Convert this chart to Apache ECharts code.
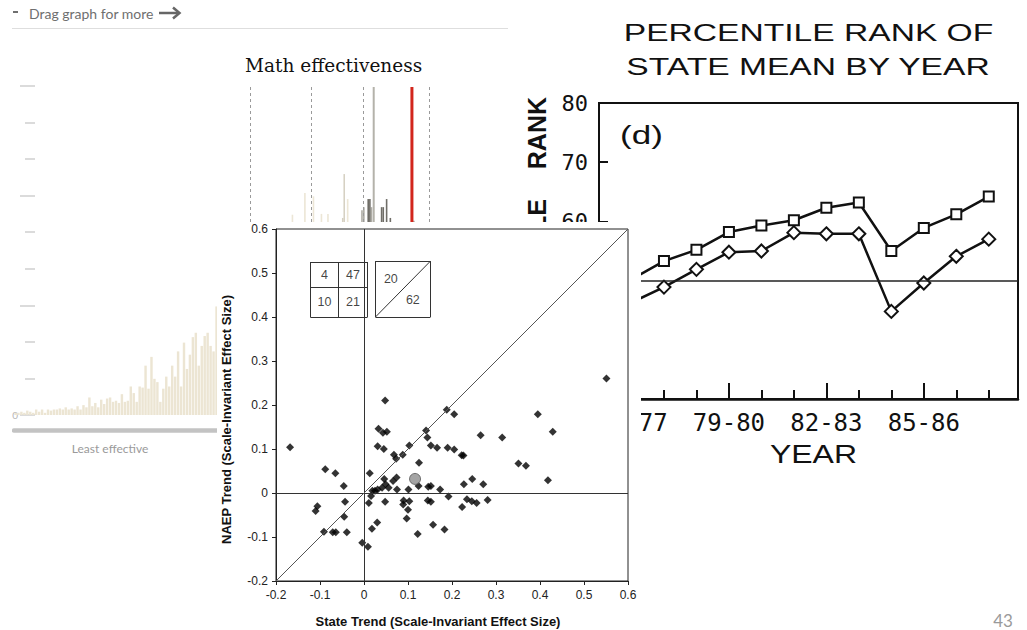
<!DOCTYPE html>
<html>
<head>
<meta charset="utf-8">
<script src="https://cdn.jsdelivr.net/npm/echarts@6.0.0/dist/echarts.min.js"></script>
<style>
  html, body { margin: 0; padding: 0; background: #fff; }
  body { width: 1027px; height: 630px; position: relative; overflow: hidden; }
  .panel { position: absolute; }
  #hist { left: 12px; top: 0; width: 500px; height: 470px; z-index: 1; }
  #rank { left: 500px; top: 0; width: 527px; height: 630px; z-index: 2; }
  #naep { left: 217px; top: 222px; width: 424px; height: 408px; z-index: 3; background: #fff; }
</style>
</head>
<body>
<div id="hist" class="panel"></div>
<div id="rank" class="panel"></div>
<div id="naep" class="panel"></div>
<script>
// ---- left panel: teacher effectiveness distribution ----
const leftCounts = [2, 2, 3, 2, 4, 3, 2, 5, 3, 5, 2, 5, 4, 5, 5, 6, 5, 7, 5, 6,
  5, 8, 5, 9, 7, 16, 8, 11, 7, 14, 10, 15, 16, 12, 13, 11, 19, 12, 13, 26,
  20, 12, 26, 25, 45, 24, 53, 33, 30, 12, 24, 35, 26, 45, 35, 58, 26, 66, 42, 55,
  71, 75, 45, 63, 72, 75, 63, 58, 99];
const countTicks = [0, 100, 200, 300];

// small "Math effectiveness" strip: [position, height]
const midLight = [[28.9, 5.4], [35.6, 21.5], [40.2, 19], [44.5, 6], [48.0, 6], [58.6, 17]];
const midPale = [[55.0, 3], [55.8, 35.5]];
const midGray = [[64.4, 8.7], [65.4, 11], [69.5, 11], [92.3, 1]];
const midDark = [[66.8, 17], [67.7, 17], [74.0, 11], [74.9, 11], [76.7, 17], [78.7, 3]];
const midTall = [[68.7, 100]];
const midRed = [[87.8, 100]];
const midDashes = [1.1, 33.7, 61.8, 96.9];

// ---- right panel: percentile rank by year ----
const schoolYears = ['75-76', '76-77', '77-78', '78-79', '79-80', '80-81', '81-82',
  '82-83', '83-84', '84-85', '85-86', '86-87', '87-88'];
const rankSquares = [null, 50.2, 53.3, 55.2, 58.2, 59.3, 60.2, 62.3, 63.2, 55.0, 58.9, 61.2, 64.2];
const rankDiamonds = [null, 46.3, 48.9, 51.9, 54.8, 55.0, 58.1, 57.9, 57.9, 44.8, 49.6, 54.1, 57.0];
const yearLabelIdx = [1, 4, 7, 10];
const rankTicks = [30, 40, 50, 60, 70, 80];
const rankMedian = 50;

// ---- front panel: NAEP trend vs state trend ----
const stateTrend = [-0.168, -0.088, -0.065, -0.046, -0.043, -0.045, -0.106, -0.110, -0.091, -0.071,
  -0.064, -0.039, -0.004, 0.009, 0.033, 0.043, 0.052, 0.031, 0.045, 0.013,
  0.016, 0.011, 0.019, 0.025, 0.031, 0.041, 0.046, 0.049, 0.056, 0.048,
  0.030, 0.018, 0.068, 0.073, 0.088, 0.103, 0.125, 0.074, 0.066, 0.075,
  0.101, 0.090, 0.089, 0.103, 0.100, 0.097, 0.122, 0.124, 0.141, 0.144,
  0.152, 0.166, 0.146, 0.152, 0.145, 0.152, 0.157, 0.173, 0.183, 0.190,
  0.205, 0.192, 0.222, 0.226, 0.227, 0.223, 0.234, 0.246, 0.245, 0.256,
  0.271, 0.281, 0.265, 0.314, 0.351, 0.368, 0.418, 0.429, 0.048, 0.551,
  0.188, 0.205, 0.395];
const naepTrend = [0.104, 0.054, 0.045, 0.016, -0.020, -0.054, -0.030, -0.041, -0.088, -0.089,
  -0.089, -0.089, -0.113, -0.122, 0.146, 0.137, 0.139, 0.106, 0.100, 0.045,
  -0.007, -0.023, 0.005, 0.005, 0.008, 0.012, 0.032, 0.020, 0.012, -0.020,
  -0.067, -0.081, 0.087, 0.078, 0.087, 0.108, 0.069, 0.035, 0.027, 0.008,
  0.008, -0.017, -0.026, -0.019, -0.038, -0.058, -0.093, 0.016, 0.142, 0.126,
  0.108, 0.103, 0.014, 0.016, -0.017, -0.020, -0.072, 0.008, -0.083, 0.103,
  0.099, -0.008, 0.086, 0.085, 0.020, -0.032, -0.014, 0.032, -0.019, -0.023,
  0.020, -0.016, 0.131, 0.126, 0.067, 0.062, 0.029, 0.139, 0.210, 0.260,
  0.189, 0.179, 0.179];
const meanPoint = [0.116, 0.032];
const quadCounts = [4, 47, 10, 21];
const diagCounts = [20, 62];
const trendTicks = [-0.2, -0.1, 0, 0.1, 0.2, 0.3, 0.4, 0.5, 0.6];

const svg = { renderer: 'svg' };

// =================== histogram panel ===================
const hist = echarts.init(document.getElementById('hist'), null, svg);
const thinBar = (name, data, color, width) => ({
  name, type: 'bar', xAxisIndex: 1, yAxisIndex: 1, data,
  barWidth: width, itemStyle: { color }, silent: true
});
hist.setOption({
  animation: false,
  grid: [
    { left: 2, top: 86, width: 204, height: 329, outerBoundsMode: 'none' },
    { left: 232, top: 87, width: 186, height: 135, outerBoundsMode: 'none' }
  ],
  xAxis: [
    {
      type: 'category', gridIndex: 0, data: leftCounts.map((v, i) => i),
      offset: 15,
      axisLine: { onZero: false, lineStyle: { color: '#c3c3c3', width: 4.5 } },
      axisTick: { show: false }, axisLabel: { show: false },
      name: 'Least effective', nameLocation: 'middle', nameGap: 12,
      nameTextStyle: { color: '#9a9a9a', fontSize: 12, fontFamily: 'Lato', padding: [0, 12, 0, 0] }
    },
    { type: 'value', gridIndex: 1, min: 0, max: 100, show: false }
  ],
  yAxis: [
    {
      type: 'value', gridIndex: 0, min: countTicks[0], max: countTicks[countTicks.length - 1],
      interval: countTicks[1] - countTicks[0], offset: -21,
      axisLine: { show: false },
      axisTick: { show: true, length: 15, lineStyle: { color: '#cfcfcf', width: 1.5 } },
      minorTick: { show: true, splitNumber: 3, length: 10, lineStyle: { color: '#cfcfcf', width: 1.5 } },
      splitLine: { show: false },
      axisLabel: { margin: 17, color: '#b5b5b5', fontSize: 10, fontFamily: 'Lato',
        formatter: v => (v === 0 ? '0' : '') }
    },
    { type: 'value', gridIndex: 1, min: 0, max: 100, show: false }
  ],
  series: [
    {
      type: 'bar', data: leftCounts, barCategoryGap: '18%',
      itemStyle: { color: '#ece5d3' }, silent: true
    },
    thinBar('light', midLight, '#ece6d6', 1.6),
    thinBar('pale', midPale, '#d6d1c3', 1.6),
    thinBar('gray', midGray, '#aeaca4', 1.6),
    thinBar('dark', midDark, '#6f6d67', 1.6),
    thinBar('tall', midTall, '#b4b2aa', 2),
    {
      name: 'red', type: 'bar', xAxisIndex: 1, yAxisIndex: 1, data: midRed,
      barWidth: 3, itemStyle: { color: '#d2261c' }, silent: true,
      markLine: {
        silent: true, symbol: 'none', label: { show: false },
        lineStyle: { color: '#9a9a9a', width: 1, type: [3, 3] },
        data: midDashes.map(v => ({ xAxis: v }))
      }
    }
  ],
  graphic: [
    { type: 'line', shape: { x1: 1, y1: 12, x2: 6, y2: 12 }, style: { stroke: '#6f6f6f', lineWidth: 2 } },
    { type: 'text', x: 17, y: 13, style: { text: 'Drag graph for more', fill: '#6f6f6f',
      fontSize: 14, fontFamily: 'Lato', align: 'left', verticalAlign: 'middle',
      textAlign: 'left', textVerticalAlign: 'middle' } },
    { type: 'line', shape: { x1: 147, y1: 13, x2: 167, y2: 13 }, style: { stroke: '#666', lineWidth: 2.5 } },
    { type: 'polyline', shape: { points: [[161, 7.5], [167.5, 13], [161, 18.5]] },
      style: { stroke: '#666', lineWidth: 2.5, fill: null } },
    { type: 'line', shape: { x1: 0, y1: 28.5, x2: 496, y2: 28.5 }, style: { stroke: '#dedede', lineWidth: 1 } },
    { type: 'text', x: 233, y: 65, style: { text: 'Math effectiveness', fill: '#111',
      fontSize: 18.5, fontFamily: 'DejaVu Serif', align: 'left', verticalAlign: 'middle',
      textAlign: 'left', textVerticalAlign: 'middle' } }
  ]
});

// =================== percentile rank panel ===================
const rank = echarts.init(document.getElementById('rank'), null, svg);
const mono = 'DejaVu Sans Mono';
const toPairs = arr => arr.map((v, i) => [i, v]).filter(p => p[1] != null);
const stretchText = (text, x, y, size, sx, extra) => Object.assign({
  type: 'text', x, y, scaleX: sx,
  style: { text, x: 0, y: 0, fill: '#111', fontSize: size, fontFamily: 'Liberation Sans',
    align: 'center', verticalAlign: 'middle', textAlign: 'center', textVerticalAlign: 'middle' }
}, extra || {});
const upText = (text, y) => ({
  type: 'text', x: 37, y, rotation: Math.PI / 2,
  style: { text, x: 0, y: 0, fill: '#111', fontSize: 25,
    fontWeight: 'bold', fontFamily: 'Liberation Sans', align: 'right', verticalAlign: 'middle',
    textAlign: 'right', textVerticalAlign: 'middle' }
});
rank.setOption({
  animation: false,
  grid: { left: 99, top: 103, right: 9, bottom: 231, show: true, borderColor: '#111', borderWidth: 2,
    outerBoundsMode: 'none' },
  xAxis: [
    {
      type: 'value', min: 0, max: 12.9, position: 'bottom',
      axisLine: { lineStyle: { color: '#111', width: 2.5 } },
      axisTick: { inside: true, length: 9, customValues: schoolYears.map((s, i) => i),
        lineStyle: { color: '#111', width: 2 } },
      axisLabel: { customValues: yearLabelIdx, formatter: v => schoolYears[Math.round(v)],
        fontFamily: mono, fontSize: 24, color: '#111', margin: 12 },
      splitLine: { show: false }
    },
    {
      type: 'value', min: 0, max: 12.9, position: 'bottom',
      axisLine: { show: false },
      axisTick: { inside: true, length: 16, customValues: yearLabelIdx,
        lineStyle: { color: '#111', width: 2 } },
      axisLabel: { show: false }, splitLine: { show: false }
    }
  ],
  yAxis: {
    type: 'value', min: rankTicks[0], max: rankTicks[rankTicks.length - 1], interval: 10,
    axisLine: { lineStyle: { color: '#111', width: 2 } },
    axisTick: { inside: true, length: 9, lineStyle: { color: '#111', width: 2 } },
    axisLabel: { fontFamily: mono, fontSize: 22, color: '#111', margin: 11 },
    splitLine: { show: false }
  },
  series: [
    {
      type: 'line', data: toPairs(rankSquares), symbol: 'rect', symbolSize: 10,
      lineStyle: { color: '#111', width: 2.5 },
      itemStyle: { color: '#fff', borderColor: '#111', borderWidth: 2 }, z: 4
    },
    {
      type: 'line', data: toPairs(rankDiamonds), symbol: 'diamond', symbolSize: 13,
      lineStyle: { color: '#111', width: 2.5 },
      itemStyle: { color: '#fff', borderColor: '#111', borderWidth: 2 }, z: 4,
      markLine: {
        silent: true, symbol: 'none', label: { show: false },
        lineStyle: { color: '#222', width: 1.5, type: 'solid' },
        data: [{ yAxis: rankMedian }]
      }
    }
  ],
  graphic: [
    stretchText('PERCENTILE RANK OF', 308.5, 32.5, 24, 1.4),
    stretchText('STATE MEAN BY YEAR', 308, 66.5, 24, 1.4),
    stretchText('YEAR', 313.5, 454, 25, 1.28),
    stretchText('(d)', 141.5, 135, 25, 1.4),
    upText('RANK', 97),
    upText('PERCENTILE', 199),
    { type: 'text', x: 503, y: 620, style: { text: '43', x: 0, y: 0, fill: '#9a9a9a', fontSize: 17,
      fontFamily: 'Lato', align: 'center', verticalAlign: 'middle',
      textAlign: 'center', textVerticalAlign: 'middle' } }
  ]
});

// =================== NAEP vs state trend panel ===================
const naep = echarts.init(document.getElementById('naep'), null, svg);
const points = stateTrend.map((x, i) => [x, naepTrend[i]]);
const lo = trendTicks[0], hi = trendTicks[trendTicks.length - 1];
const seg = (a, b, c, d) => [{ coord: [a, b] }, { coord: [c, d] }];
// inset tables (annotation geometry in data units)
const b1 = { x0: -0.122, xm: -0.058, x1: 0.008, y0: 0.40, ym: 0.4675, y1: 0.525 };
const b2 = { x0: 0.026, x1: 0.151, y0: 0.40, y1: 0.527 };
const boxLines = [
  seg(b1.x0, b1.y0, b1.x1, b1.y0), seg(b1.x0, b1.y1, b1.x1, b1.y1),
  seg(b1.x0, b1.y0, b1.x0, b1.y1), seg(b1.x1, b1.y0, b1.x1, b1.y1),
  seg(b1.xm, b1.y0, b1.xm, b1.y1), seg(b1.x0, b1.ym, b1.x1, b1.ym),
  seg(b2.x0, b2.y0, b2.x1, b2.y0), seg(b2.x0, b2.y1, b2.x1, b2.y1),
  seg(b2.x0, b2.y0, b2.x0, b2.y1), seg(b2.x1, b2.y0, b2.x1, b2.y1),
  seg(b2.x0, b2.y0, b2.x1, b2.y1)
];
const cx = [(b1.x0 + b1.xm) / 2, (b1.xm + b1.x1) / 2];
const cy = [(b1.ym + b1.y1) / 2, (b1.y0 + b1.ym) / 2];
const countLabels = [
  [cx[0], cy[0], quadCounts[0]], [cx[1], cy[0], quadCounts[1]],
  [cx[0], cy[1], quadCounts[2]], [cx[1], cy[1], quadCounts[3]],
  [b2.x0 + 0.035, b2.y1 - 0.041, diagCounts[0]], [b2.x1 - 0.04, b2.y0 + 0.039, diagCounts[1]]
];
const sans = 'Liberation Sans';
const trendAxis = (name, extra) => Object.assign({
  type: 'value', min: lo, max: hi, interval: 0.1,
  axisLine: { onZero: false, lineStyle: { color: '#222', width: 1 } },
  axisTick: { length: 4, lineStyle: { color: '#222' } },
  axisLabel: { color: '#222', fontSize: 12, fontFamily: sans },
  splitLine: { show: false },
  name, nameLocation: 'middle'
}, extra);
naep.setOption({
  animation: false,
  grid: { left: 59, top: 7, width: 352, height: 352, show: true, borderColor: '#222', borderWidth: 1,
    outerBoundsMode: 'none' },
  xAxis: trendAxis('State Trend (Scale-Invariant Effect Size)', {
    nameGap: 34,
    nameTextStyle: { color: '#111', fontSize: 13, fontWeight: 'bold', fontFamily: sans, padding: [0, 28, 0, 0] }
  }),
  yAxis: trendAxis('NAEP Trend (Scale-Invariant Effect Size)', {
    nameGap: 43,
    nameTextStyle: { color: '#111', fontSize: 13, fontWeight: 'bold', fontFamily: sans, padding: [0, 29, 0, 0] }
  }),
  series: [
    {
      type: 'scatter', data: [], silent: true,
      markLine: {
        silent: true, symbol: 'none', label: { show: false }, animation: false,
        lineStyle: { color: '#333', width: 1, type: 'solid' },
        data: [
          { xAxis: 0 }, { yAxis: 0 },
          [{ coord: [lo, lo], lineStyle: { color: '#555' } }, { coord: [hi, hi] }]
        ].concat(boxLines)
      }
    },
    {
      type: 'scatter', data: points, symbol: 'diamond', symbolSize: 8,
      itemStyle: { color: '#000' }, silent: true
    },
    {
      type: 'scatter', data: [meanPoint], symbol: 'circle', symbolSize: 11,
      itemStyle: { color: '#8d8d8d', borderColor: '#555', borderWidth: 1 }, silent: true
    },
    {
      type: 'scatter', data: countLabels, symbolSize: 0, silent: true,
      label: { show: true, position: 'inside', formatter: p => String(p.value[2]),
        color: '#111', fontSize: 12.5, fontFamily: sans }
    }
  ]
});
</script>
</body>
</html>
